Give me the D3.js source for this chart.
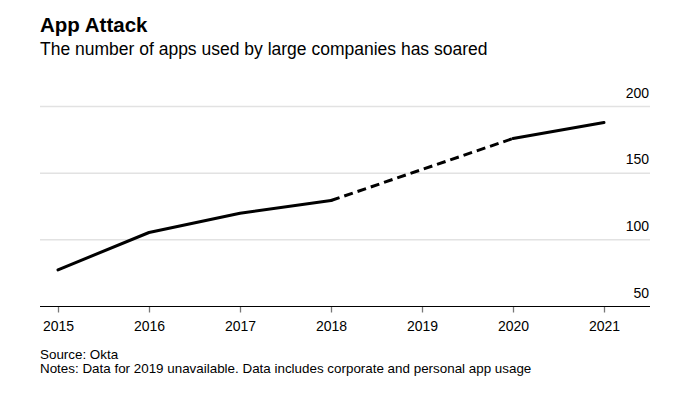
<!DOCTYPE html>
<html>
<head>
<meta charset="utf-8">
<script src="https://cdn.jsdelivr.net/npm/d3@7"></script>
<style>
  html, body { margin: 0; padding: 0; background: #fff; }
  svg { display: block; font-family: "Liberation Sans", Arial, sans-serif; }
</style>
</head>
<body>
<svg id="chart" width="678" height="395"></svg>
<script>
const years = [2015, 2016, 2017, 2018, 2019, 2020, 2021];
const apps = [77.5, 105.5, 120, 129.5, null, 176, 188];
const yTicks = [50, 100, 150, 200];
const titleText = "App Attack";
const subtitleText = "The number of apps used by large companies has soared";
const sourceText = "Source: Okta";
const notesText = "Notes: Data for 2019 unavailable. Data includes corporate and personal app usage";

const svg = d3.select("#chart");
const plotLeft = 40, plotRight = 650, plotTop = 106.5, plotBottom = 306.5;

const x = d3.scalePoint().domain(years).range([58, 604]);
const y = d3.scaleLinear().domain([50, 200]).range([plotBottom, plotTop]);

svg.append("text").attr("x", 40).attr("y", 31.5)
  .attr("font-size", 20.5).attr("font-weight", "bold").attr("fill", "#000").text(titleText);
svg.append("text").attr("x", 40).attr("y", 54.5)
  .attr("font-size", 17.5).attr("fill", "#000").text(subtitleText);

// gridlines
svg.append("g").selectAll("line").data(yTicks.filter(d => d !== 50)).join("line")
  .attr("x1", plotLeft).attr("x2", plotRight)
  .attr("y1", d => y(d)).attr("y2", d => y(d))
  .attr("stroke", "#e2e2e2").attr("stroke-width", 1.5);

// y labels
svg.append("g").selectAll("text").data(yTicks).join("text")
  .attr("x", plotRight - 1).attr("y", d => y(d) - 9)
  .attr("text-anchor", "end").attr("font-size", 14).attr("fill", "#000")
  .text(d => d);

// x axis
const xAxis = d3.axisBottom(x).tickSize(6).tickPadding(9).tickFormat(d3.format("d"));
const gx = svg.append("g").attr("transform", `translate(0,${plotBottom})`).call(xAxis);
gx.select(".domain").remove();
gx.selectAll(".tick line").attr("stroke", "#777").attr("stroke-width", 1.3);
gx.selectAll(".tick text").attr("font-size", 14).attr("fill", "#000")
  .attr("font-family", "Liberation Sans, Arial, sans-serif");
svg.append("line").attr("x1", plotLeft).attr("x2", plotRight)
  .attr("y1", plotBottom).attr("y2", plotBottom).attr("stroke", "#000").attr("stroke-width", 1.2);

// data
const pts = years.map((yr, i) => ({ yr, v: apps[i] }));
const valid = pts.filter(d => d.v !== null);
const line = d3.line().x(d => x(d.yr)).y(d => y(d.v));

const idx2018 = valid.findIndex(d => d.yr === 2018);
const solid1 = valid.slice(0, idx2018 + 1);
const dashed = valid.slice(idx2018, idx2018 + 2);
const solid2 = valid.slice(idx2018 + 1);

svg.append("path").datum(solid1).attr("d", line)
  .attr("fill", "none").attr("stroke", "#000").attr("stroke-width", 3)
  .attr("stroke-linecap", "round").attr("stroke-linejoin", "round");
svg.append("path").datum(dashed).attr("d", line)
  .attr("fill", "none").attr("stroke", "#000").attr("stroke-width", 3)
  .attr("stroke-dasharray", "9,5");
svg.append("path").datum(solid2).attr("d", line)
  .attr("fill", "none").attr("stroke", "#000").attr("stroke-width", 3)
  .attr("stroke-linecap", "round").attr("stroke-linejoin", "round");

svg.append("text").attr("x", 40).attr("y", 359)
  .attr("font-size", 13.4).attr("fill", "#000").text(sourceText);
svg.append("text").attr("x", 40).attr("y", 373)
  .attr("font-size", 13.4).attr("fill", "#000").text(notesText);
</script>
</body>
</html>
